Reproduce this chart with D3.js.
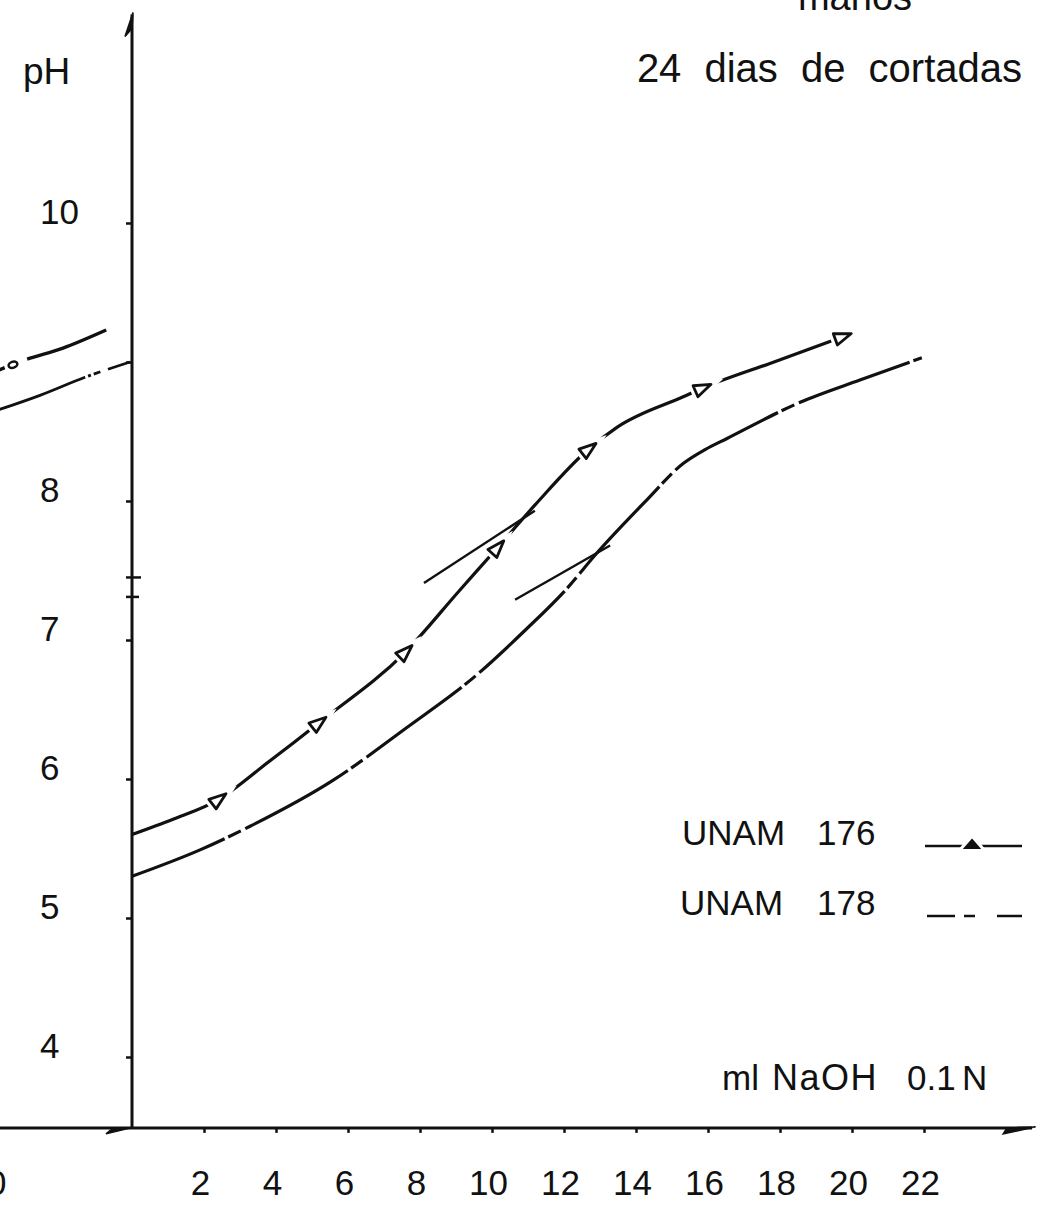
<!DOCTYPE html>
<html>
<head>
<meta charset="utf-8">
<script src="https://cdn.jsdelivr.net/npm/d3@7"></script>
<style>
  html, body { margin: 0; padding: 0; background: #fff; }
  svg { display: block; }
  text { font-family: "Liberation Sans", Arial, sans-serif; fill: #111; }
</style>
</head>
<body>
<svg id="chart" width="1047" height="1212"></svg>
<script>
// Titration curves: pH vs ml NaOH 0.1 N, banana hands 24 days after cutting

// x axis ticks (ml NaOH)
const mlTicks = [2, 4, 6, 8, 10, 12, 14, 16, 18, 20, 22];
// y axis ticks and labels (pH)
const pHTicks = [4, 5, 6, 7, 8, 9, 10];
const pHLabels = [4, 5, 6, 7, 8, 10];

// UNAM 176 — drawn curve and measured points
const ml176 = [0, 1.14, 2.39, 3.78, 5.17, 7.58, 9.11, 10.14, 11.19, 12.67, 13.47, 15.31, 15.83, 17.72, 19.72];
const pH176 = [5.60, 5.71, 5.85, 6.12, 6.40, 6.91, 7.36, 7.66, 7.97, 8.37, 8.53, 8.75, 8.81, 8.99, 9.18];
const ml176Points = [2.39, 5.17, 7.58, 10.14, 12.67, 15.83, 19.72];
const pH176Points = [5.85, 6.40, 6.91, 7.66, 8.37, 8.81, 9.18];

// UNAM 178 — drawn curve
const ml178 = [0, 1.89, 3.28, 5.58, 7.58, 9.58, 10.92, 12.08, 12.86, 14.31, 15.31, 15.92, 16.53, 18.56, 20.22, 21.94];
const pH178 = [5.30, 5.49, 5.66, 5.99, 6.36, 6.75, 7.07, 7.37, 7.61, 8.01, 8.27, 8.37, 8.45, 8.71, 8.87, 9.03];

// Tangents at the inflection points
const tangent176ML = [8.11, 11.19], tangent176PH = [7.41, 7.93];
const tangent178ML = [10.64, 13.28], tangent178PH = [7.29, 7.68];
// Equivalence pH marked on the y axis
const equivalencePH = [7.45, 7.31];

// Tail of the neighbouring panel (its own ml scale)
const prevTopML = [20.2, 20.89, 22.0, 23.2];
const prevTopPH = [8.94, 9.01, 9.10, 9.23];
const prevTopMarkML = 20.61, prevTopMarkPH = 8.98;
const prevLowML = [20.2, 21.36, 22.61, 23.86];
const prevLowPH = [8.655, 8.76, 8.89, 9.00];
const prevTickLabel = "20";

const svg = d3.select("#chart");
const ink = "#111";
const FONT = "Liberation Sans, Arial, sans-serif";

const x = d3.scaleLinear().domain([0, 22]).range([132, 924]);
const y = d3.scaleLinear().domain([4, 10]).range([1057, 223]);
const xPrev = d3.scaleLinear().domain([0, 22]).range([-729, 63]);

const axisBasePH = 3.49;   // pH where the x axis sits
const x0 = x(0), yBase = y(axisBasePH);

// ---- axes ----
svg.append("line").attr("x1", -5).attr("x2", x(25.0)).attr("y1", yBase).attr("y2", yBase)
  .attr("stroke", ink).attr("stroke-width", 3);
svg.append("line").attr("x1", x0).attr("x2", x0).attr("y1", yBase).attr("y2", y(11.5))
  .attr("stroke", ink).attr("stroke-width", 3);
// arrow heads
svg.append("path").attr("d", `M${x0 + 1},${y(11.5) - 2} L${x0 - 7},${y(11.5) + 22} L${x0},${y(11.5) + 14} Z`)
  .attr("fill", ink).attr("stroke", ink).attr("stroke-width", 1.5);
svg.append("path").attr("d", `M${x(25.1)},${yBase - 1} L${x(24.2)},${yBase + 6} L${x(24.3)},${yBase} Z`)
  .attr("fill", ink).attr("stroke", ink).attr("stroke-width", 1.5);
svg.append("path").attr("d", `M${x0 - 1},${yBase} L${x0 - 26},${yBase + 6} L${x0 - 20},${yBase + 1} Z`)
  .attr("fill", ink).attr("stroke", ink).attr("stroke-width", 1.5);

// y ticks + labels
const yAxis = svg.append("g").attr("transform", `translate(${x0},0)`)
  .call(d3.axisLeft(y).tickValues(pHTicks).tickSize(6).tickFormat(d => pHLabels.includes(d) ? d : ""));
yAxis.select(".domain").remove();
yAxis.selectAll(".tick line").attr("stroke", ink).attr("stroke-width", 2.5);
yAxis.selectAll(".tick text").attr("x", 40 - x0).attr("dy", 0).attr("text-anchor", "start")
  .attr("font-size", 35).attr("font-family", FONT).attr("fill", ink);

// equivalence ticks crossing the y axis
svg.selectAll("line.eq").data(equivalencePH).join("line").attr("class", "eq")
  .attr("x1", x0 - 6).attr("x2", (d, i) => x0 + (i === 0 ? 9 : 7))
  .attr("y1", d => y(d)).attr("y2", d => y(d))
  .attr("stroke", ink).attr("stroke-width", 2.5);

// x ticks + labels
const xAxis = svg.append("g").attr("transform", `translate(0,${yBase})`)
  .call(d3.axisBottom(x).tickValues(mlTicks).tickSize(5).tickFormat(d => d));
xAxis.select(".domain").remove();
xAxis.selectAll(".tick line").attr("stroke", ink).attr("stroke-width", 2.5);
xAxis.selectAll(".tick text").attr("y", 67).attr("dy", 0).attr("x", -4)
  .attr("font-size", 35).attr("font-family", FONT).attr("fill", ink);

// tick label of the neighbouring panel
svg.append("text").attr("x", xPrev(20) - 4).attr("y", yBase + 67).attr("text-anchor", "middle")
  .attr("font-size", 35).text(prevTickLabel);

// ---- curves ----
const smooth = (sx) => d3.line().x(d => sx(d[0])).y(d => y(d[1])).curve(d3.curveMonotoneX);

const c176 = d3.zip(ml176, pH176);
const c178 = d3.zip(ml178, pH178);

svg.append("path").datum(c178).attr("d", smooth(x))
  .attr("fill", "none").attr("stroke", ink).attr("stroke-width", 3.2)
  .attr("stroke-dasharray", "118 4 14 5").attr("stroke-dashoffset", 18);

svg.append("path").datum(c176).attr("d", smooth(x))
  .attr("fill", "none").attr("stroke", ink).attr("stroke-width", 3.2);

// tangents
[[tangent176ML, tangent176PH], [tangent178ML, tangent178PH]].forEach(([m, p]) => {
  svg.append("line").attr("x1", x(m[0])).attr("y1", y(p[0])).attr("x2", x(m[1])).attr("y2", y(p[1]))
    .attr("stroke", ink).attr("stroke-width", 2.4);
});

// measured points of UNAM 176: triangles oriented along the curve
const pts = d3.zip(ml176Points, pH176Points);
const tri = "M10,0 L-7,-6 L-7,6 Z";
pts.forEach((d, i) => {
  const a = pts[Math.max(0, i - 1)], b = pts[Math.min(pts.length - 1, i + 1)];
  const ang = Math.atan2(y(b[1]) - y(a[1]), x(b[0]) - x(a[0])) * 180 / Math.PI;
  const g = svg.append("g").attr("transform", `translate(${x(d[0])},${y(d[1])}) rotate(${ang})`);
  g.append("path").attr("d", tri).attr("fill", "#fff").attr("stroke", "#fff").attr("stroke-width", 9);
  g.append("path").attr("d", tri).attr("fill", "#fff").attr("stroke", ink).attr("stroke-width", 2.8)
    .attr("stroke-linejoin", "round");
});

// neighbouring panel tails
svg.append("path").datum(d3.zip(prevTopML, prevTopPH)).attr("d", smooth(xPrev))
  .attr("fill", "none").attr("stroke", ink).attr("stroke-width", 3.4)
  .attr("stroke-dasharray", "7 4 3 17 400");
svg.append("ellipse").attr("cx", xPrev(prevTopMarkML)).attr("cy", y(prevTopMarkPH))
  .attr("rx", 4.5).attr("ry", 3).attr("transform", `rotate(-18 ${xPrev(prevTopMarkML)} ${y(prevTopMarkPH)})`)
  .attr("fill", "#fff").attr("stroke", ink).attr("stroke-width", 2.5);
svg.append("path").datum(d3.zip(prevLowML, prevLowPH)).attr("d", smooth(xPrev))
  .attr("fill", "none").attr("stroke", ink).attr("stroke-width", 2.8)
  .attr("stroke-dasharray", "93 3 3 3 7 8 24 60");

// ---- text ----
svg.append("text").attr("x", 855).attr("y", 10).attr("text-anchor", "middle").attr("font-size", 38).text("manos");
svg.append("text").attr("x", 1022).attr("y", 82).attr("text-anchor", "end").attr("font-size", 40)
  .attr("word-spacing", 12).text("24 dias de cortadas");
svg.append("text").attr("x", 23).attr("y", 84).attr("font-size", 37).text("pH");

// legend
const legendNames = ["UNAM", "UNAM"];
const legendNums = ["176", "178"];
const legendRows = [845, 915];
legendRows.forEach((ly, i) => {
  svg.append("text").attr("x", 682 - i * 2).attr("y", ly).attr("font-size", 35).text(legendNames[i]);
  svg.append("text").attr("x", 817).attr("y", ly).attr("font-size", 35).text(legendNums[i]);
});
svg.append("line").attr("x1", 925).attr("x2", 1022).attr("y1", 846).attr("y2", 846)
  .attr("stroke", ink).attr("stroke-width", 2.5);
svg.append("path").attr("d", "M972,839 L980,849 L964,849 Z").attr("fill", "#fff").attr("stroke", "#fff").attr("stroke-width", 8);
svg.append("path").attr("d", "M972,840 L979,848 L965,848 Z").attr("fill", ink).attr("stroke", ink).attr("stroke-width", 2);
svg.append("line").attr("x1", 927).attr("x2", 1022).attr("y1", 916).attr("y2", 916)
  .attr("stroke", ink).attr("stroke-width", 2.5).attr("stroke-dasharray", "28 9 11 22 26");

// x axis title
svg.append("text").attr("x", 722).attr("y", 1090).attr("font-size", 35).text("ml");
svg.append("text").attr("x", 772).attr("y", 1090).attr("font-size", 36)
  .attr("letter-spacing", 1.5).text("NaOH");
svg.append("text").attr("x", 907).attr("y", 1090).attr("font-size", 35).text("0.1");
svg.append("text").attr("x", 962).attr("y", 1090).attr("font-size", 35).text("N");
</script>
</body>
</html>
